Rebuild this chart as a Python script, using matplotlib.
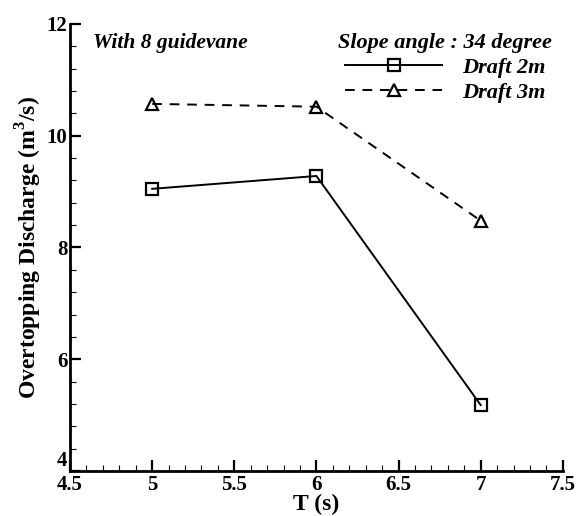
import matplotlib
matplotlib.use("Agg")
import matplotlib.pyplot as plt
from matplotlib.ticker import MultipleLocator

T = [5, 6, 7]
draft2 = [9.05, 9.28, 5.18]
draft3 = [10.57, 10.52, 8.48]
labels = ["Draft 2m", "Draft 3m"]
xticks = [4.5, 5, 5.5, 6, 6.5, 7, 7.5]
xticklabels = ['4.5', '5', '5.5', '6', '6.5', '7', '7.5']
yticks = [4, 6, 8, 10, 12]
yticklabels = ['4', '6', '8', '10', '12']

plt.rcParams['font.family'] = ['Liberation Serif', 'DejaVu Serif']
plt.rcParams['mathtext.fontset'] = 'custom'
plt.rcParams['mathtext.rm'] = 'Liberation Serif:bold'
plt.rcParams['mathtext.bf'] = 'Liberation Serif:bold'

fig = plt.figure(figsize=(5.79, 5.16), dpi=100)
ax = fig.add_axes([0.121, 0.0872, 0.851, 0.8663])

ax.plot(T, draft2, '-', color='black', lw=1.4, marker='s', ms=9,
        mfc='none', mec='black', mew=1.6, label=labels[0])
ax.plot(T, draft3, '--', color='black', lw=1.4, marker='^', ms=9,
        mfc='none', mec='black', mew=1.6, dashes=(5, 4), label=labels[1])

ax.set_xlim(4.5, 7.5)
ax.set_ylim(4, 12)
ax.set_xticks(xticks)
ax.set_xticklabels(xticklabels, fontweight='bold')
ax.set_yticks(yticks)
ax.set_yticklabels(yticklabels, fontweight='bold')
ax.xaxis.set_minor_locator(MultipleLocator(0.1))
ax.yaxis.set_minor_locator(MultipleLocator(0.4))
ax.tick_params(which='both', direction='in', top=False, right=False)
ax.tick_params(which='major', length=8, width=1.6, labelsize=15, pad=2)
ax.tick_params(axis='x', which='major', pad=3)
ax.tick_params(which='minor', length=4, width=0.8)
ax.get_yticklabels()[0].set_va('bottom')

for s in ['top', 'right']:
    ax.spines[s].set_visible(False)
for s in ['left', 'bottom']:
    ax.spines[s].set_linewidth(2)

ax.set_xlabel('T (s)', fontsize=17, fontweight='bold', labelpad=-1)
ax.set_ylabel('Overtopping Discharge (m$^3$/s)', fontsize=17, fontweight='bold', labelpad=2)

ax.text(0.047, 0.958, 'With 8 guidevane', transform=ax.transAxes, fontsize=15.5,
        fontweight='bold', fontstyle='italic', va='center', ha='left')

leg = ax.legend(loc='upper right', bbox_to_anchor=(1.01, 1.015), frameon=False,
                title='Slope angle : 34 degree', handlelength=4.4,
                prop={'size': 16, 'weight': 'bold', 'style': 'italic'},
                labelspacing=0.2, borderaxespad=0.3, handletextpad=0.9)
leg.get_title().set_fontsize(16)
leg.get_title().set_fontweight('bold')
leg.get_title().set_fontstyle('italic')

fig.savefig('out.png', dpi=100)
